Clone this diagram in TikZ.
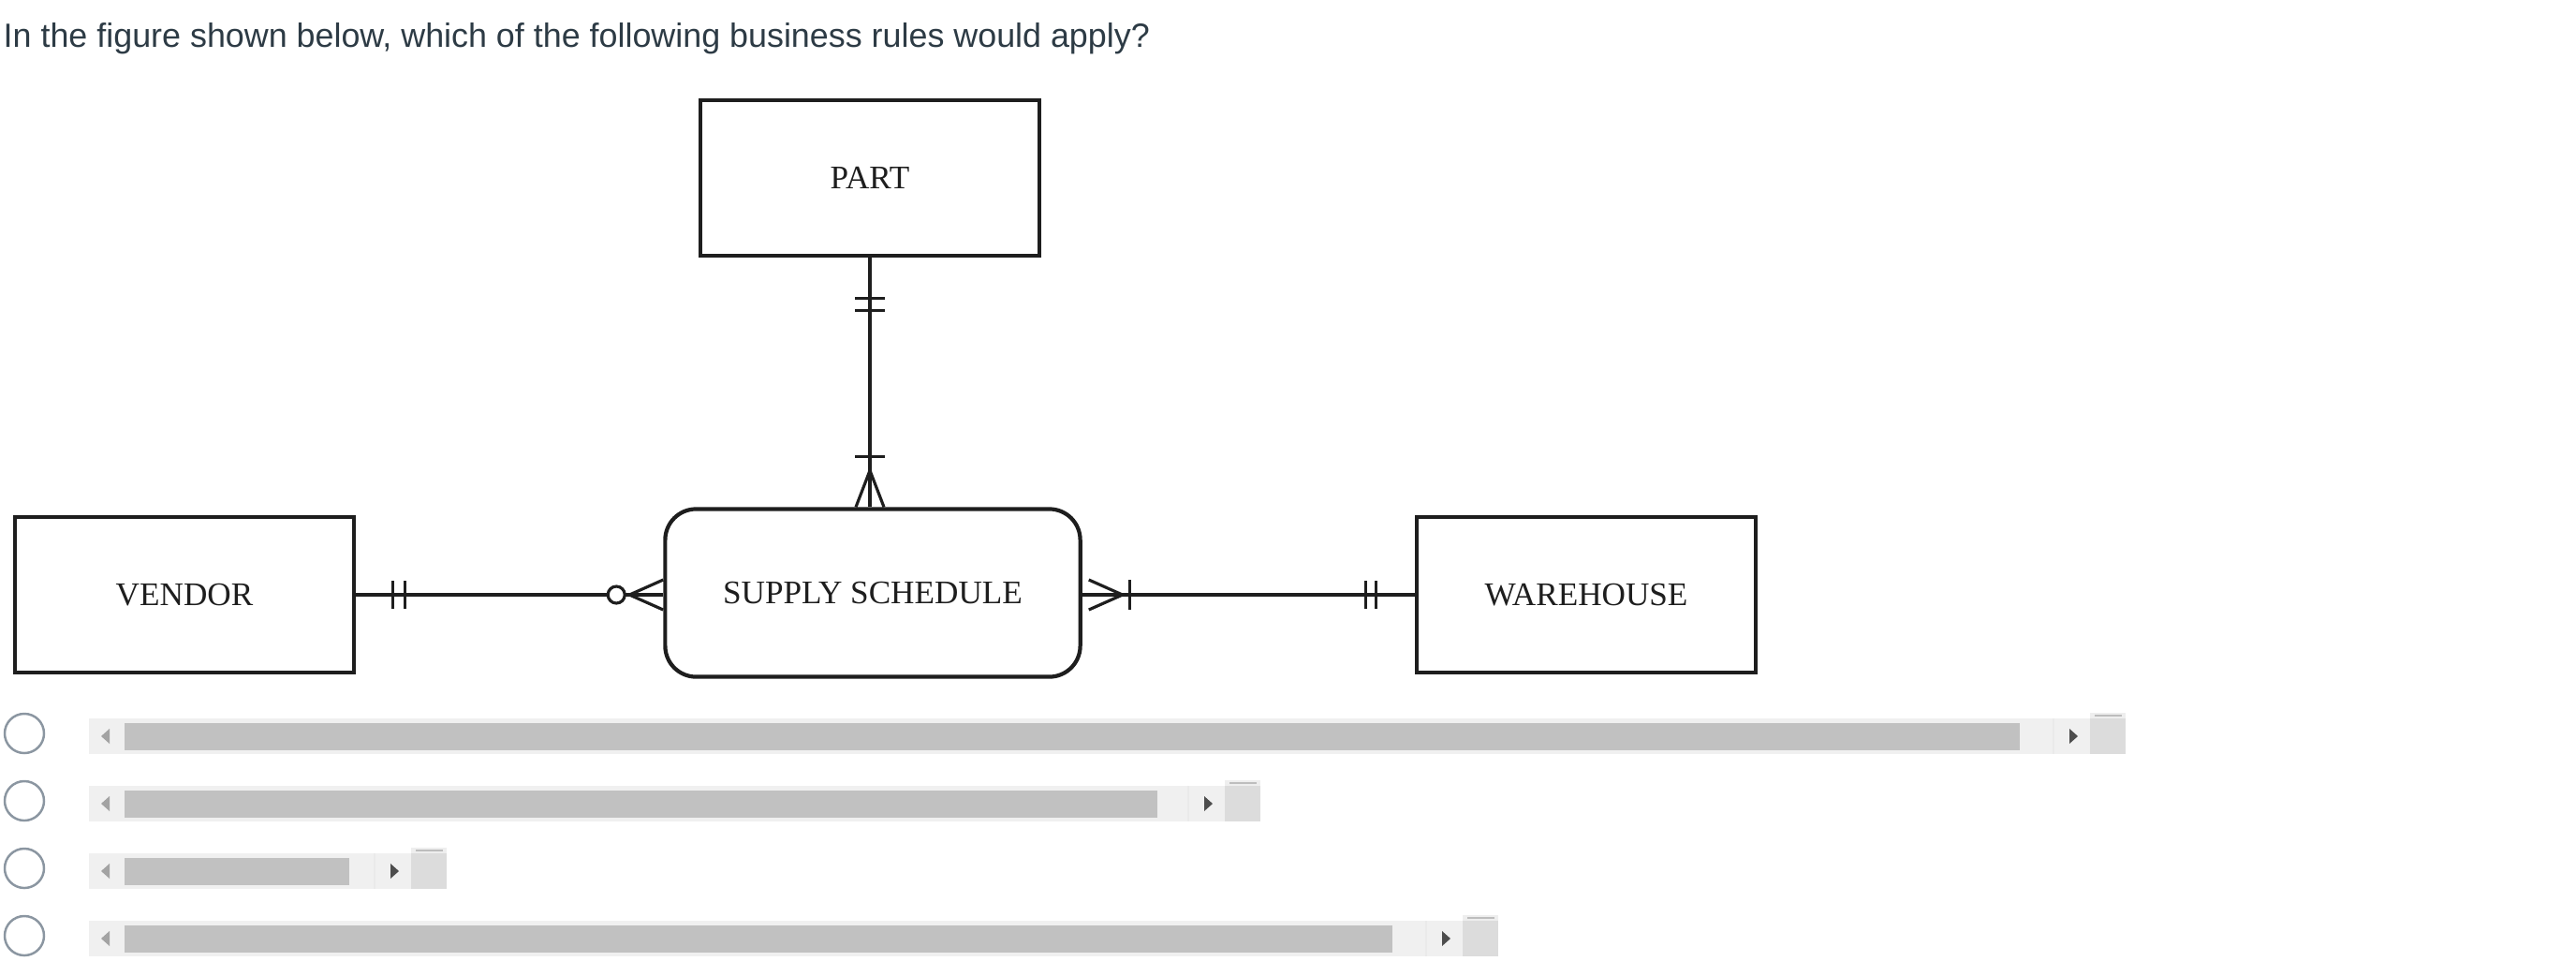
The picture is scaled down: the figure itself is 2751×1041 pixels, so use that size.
\documentclass[tikz,border=0pt]{standalone}
\usepackage{fontspec}
\setmainfont{Liberation Serif}
\newfontfamily\qfont{Liberation Sans}
\usetikzlibrary{positioning,calc}
\definecolor{erInk}{HTML}{1E1E1E}
\definecolor{qText}{HTML}{2D3B45}
\definecolor{radioGray}{HTML}{8B96A1}
\definecolor{barTrack}{HTML}{F0F0F0}
\definecolor{barThumb}{HTML}{C1C1C1}
\definecolor{barCorner}{HTML}{DCDCDC}
\definecolor{barCornerTop}{HTML}{EEEEEE}
\definecolor{barLine}{HTML}{BDBDBD}
\definecolor{barSep}{HTML}{EAEAEA}
\definecolor{barArrowL}{HTML}{A3A3A3}
\definecolor{barArrowR}{HTML}{4D4D4D}
\tikzset{
  er entity/.style={draw=erInk, line width=1.2pt, fill=white, text=erInk,
    minimum width=3.62cm, minimum height=1.66cm, inner sep=0pt,
    font=\fontsize{10}{12}\selectfont},
  er assoc/.style={er entity, rounded corners=0.33cm,
    minimum width=4.43cm, minimum height=1.79cm},
  er link/.style={draw=erInk, line width=0.9pt},
  radio/.style={draw=radioGray, line width=0.7pt}
}

\begin{document}
\begin{tikzpicture}[x=0.01cm,y=-0.01cm]
  \useasboundingbox (0,0) rectangle (2751,1041);
  \node[anchor=base west, inner sep=0pt, text=qText,
    font=\qfont\fontsize{10.2}{12}\selectfont] (question) at (3,50)
    {In the figure shown below, which of the following business rules would apply?};

  \node[er entity] (part) at (929,190) {PART};
  \node[er entity] (vendor) at (197,635) {VENDOR};
  \node[er assoc] (supply) at (932,633) {SUPPLY SCHEDULE};
  \node[er entity] (warehouse) at (1694,635) {WAREHOUSE};

  \coordinate (stop) at (part.south |- supply.north);
  \coordinate (sleft) at (vendor.east -| supply.west);
  \coordinate (sright) at (supply.east |- warehouse.west);
  \draw[er link] (part.south) -- (stop);
  \draw[er link] (vendor.east) -- (sleft);
  \draw[er link] (sright) -- (warehouse.west);

  % PART -- SUPPLY SCHEDULE
  \foreach \d in {0.43,0.56}
    \draw[er link] ([yshift=-\d cm]part.south) ++(-16,0) -- ++(32,0);
  \draw[er link] ([yshift=0.54cm]stop) ++(-16,0) -- ++(32,0);
  \draw[er link] ([xshift=-0.15cm]stop) -- ([yshift=0.39cm]stop) -- ([xshift=0.15cm]stop);

  % VENDOR -- SUPPLY SCHEDULE
  \foreach \d in {0.39,0.52}
    \draw[er link] ([xshift=\d cm]vendor.east) ++(0,-15) -- ++(0,30);
  \draw[er link] ([yshift=0.16cm]sleft) -- ([xshift=-0.36cm]sleft) -- ([yshift=-0.16cm]sleft);
  \draw[er link, fill=white] ([xshift=-0.5cm]sleft) circle[radius=0.09cm];

  % SUPPLY SCHEDULE -- WAREHOUSE
  \draw[er link] ([shift={(0.07cm,0.16cm)}]sright) -- ([xshift=0.43cm]sright)
    -- ([shift={(0.07cm,-0.16cm)}]sright);
  \draw[er link] ([xshift=0.51cm]sright) ++(0,-16) -- ++(0,32);
  \foreach \d in {0.41,0.52}
    \draw[er link] ([xshift=-\d cm]warehouse.west) ++(0,-15) -- ++(0,30);

  % answer options
  \foreach \i/\thumb/\corner in {0/2157/2270,1/1236/1346,2/373/477,3/1487/1600}{
    \pgfmathsetmacro\yc{786+72*\i}
    \draw[radio] (26,{\yc-3}) circle[radius=0.21cm];
    \fill[barTrack] (95,{\yc-19}) rectangle ({\corner-38},{\yc+19});
    \fill[barThumb] (133,{\yc-14}) rectangle (\thumb,{\yc+15});
    \draw[barSep, line width=0.4pt] ({\corner-77},{\yc-19}) -- ({\corner-77},{\yc+19});
    \fill[barArrowL] (108,\yc) -- (117,{\yc-8}) -- (117,{\yc+8}) -- cycle;
    \fill[barArrowR] ({\corner-60},{\yc-8}) -- ({\corner-51},\yc) -- ({\corner-60},{\yc+8}) -- cycle;
    \fill[barCorner] ({\corner-38},{\yc-19}) rectangle (\corner,{\yc+19});
    \fill[barCornerTop] ({\corner-38},{\yc-25}) rectangle (\corner,{\yc-19});
    \draw[barLine, line width=0.6pt] ({\corner-33},{\yc-22}) -- ({\corner-4},{\yc-22});
  }
\end{tikzpicture}
\end{document}
